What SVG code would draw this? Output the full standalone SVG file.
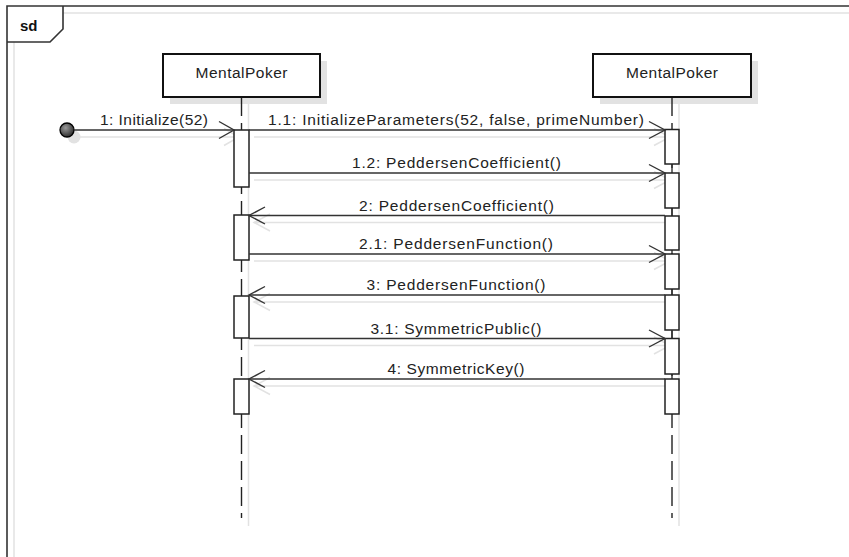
<svg xmlns="http://www.w3.org/2000/svg" width="849" height="557" viewBox="0 0 849 557">
  <style>
    .lbl { font-family: "Liberation Sans", Arial, sans-serif; font-size: 15.5px; fill: #222; text-anchor: middle; }
    .title { font-family: "Liberation Sans", Arial, sans-serif; font-size: 15px; font-weight: bold; fill: #111; }
    .frame { fill: none; stroke: #333; stroke-width: 1.6; }
    .shade { fill: none; stroke: #e2e2e2; stroke-width: 1.5; }
    .shadefill { fill: #e2e2e2; stroke: none; }
    .head { fill: #fff; stroke: #111; stroke-width: 2; }
    .life { stroke: #222; stroke-width: 1.4; stroke-dasharray: 19 7; fill: none; }
    .act { fill: #fff; stroke: #222; stroke-width: 1.5; }
    .msg { stroke: #333; stroke-width: 1.4; fill: none; }
    .arrow { stroke: #333; stroke-width: 1.4; fill: none; }
  </style>
  <defs>
    <radialGradient id="startFill" cx="0.4" cy="0.35" r="0.7">
      <stop offset="0" stop-color="#9a9a9a"/>
      <stop offset="1" stop-color="#262626"/>
    </radialGradient>
  </defs>

  <rect width="849" height="557" fill="#fff"/>

  <!-- frame -->
  <g id="frame">
    <path class="shade" d="M14 42 V557 M63 13 H849"/>
    <path class="frame" d="M7 557 V6 H849"/>
    <path class="frame" d="M7 42 H50 L63 29 V6"/>
    <text class="title" x="20" y="31">sd</text>
  </g>

  <!-- lifeline shadows -->
  <g id="shadows">
    <rect class="shadefill" x="170" y="61" width="157" height="43"/>
    <rect class="shadefill" x="600" y="61" width="158" height="43"/>
    <line class="shade" x1="248.5" y1="104" x2="248.5" y2="526"/>
    <line class="shade" x1="679" y1="104" x2="679" y2="526"/>
    <circle class="shadefill" cx="74" cy="137" r="6.5"/>
    <g transform="translate(5,7)" class="shade">
      <path d="M74 130 H234 M219 121.5 L234 130 L219 138.5"/>
      <path d="M249 130 H665 M649 121.5 L665 130 L649 138.5"/>
      <path d="M249 173 H665 M649 164.5 L665 173 L649 181.5"/>
      <path d="M665 215.5 H249 M265 207 L249 215.5 L265 224"/>
      <path d="M249 254 H665 M649 245.5 L665 254 L649 262.5"/>
      <path d="M665 295 H249 M265 286.5 L249 295 L265 303.5"/>
      <path d="M249 338.5 H665 M649 330 L665 338.5 L649 347"/>
      <path d="M665 379 H249 M265 370.5 L249 379 L265 387.5"/>
    </g>
  </g>

  <!-- lifeline: MentalPoker (left) -->
  <g id="lifeline-left">
    <line class="life" x1="241.5" y1="97" x2="241.5" y2="518"/>
    <rect class="head" x="163" y="54" width="157" height="43"/>
    <text class="lbl" x="241.5" y="78" textLength="92" lengthAdjust="spacing">MentalPoker</text>
    <rect class="act" x="234" y="130" width="15" height="57"/>
    <rect class="act" x="234" y="215" width="15" height="45"/>
    <rect class="act" x="234" y="296" width="15" height="42"/>
    <rect class="act" x="234" y="379" width="15" height="35"/>
  </g>

  <!-- lifeline: MentalPoker (right) -->
  <g id="lifeline-right">
    <line class="life" x1="672" y1="97" x2="672" y2="518"/>
    <line x1="672" y1="164" x2="672" y2="379" stroke="#333" stroke-width="1.4"/>
    <rect class="head" x="593" y="54" width="158" height="43"/>
    <text class="lbl" x="672" y="78" textLength="92" lengthAdjust="spacing">MentalPoker</text>
    <rect class="act" x="665" y="129.5" width="14" height="34.5"/>
    <rect class="act" x="665" y="173" width="14" height="35"/>
    <rect class="act" x="665" y="216" width="14" height="34"/>
    <rect class="act" x="665" y="254" width="14" height="35"/>
    <rect class="act" x="665" y="295" width="14" height="35"/>
    <rect class="act" x="665" y="338.5" width="14" height="35.5"/>
    <rect class="act" x="665" y="379" width="14" height="35"/>
  </g>

  <!-- start point -->
  <g id="start">
    <circle cx="67" cy="130" r="7" fill="url(#startFill)" stroke="#000" stroke-width="1.3"/>
  </g>

  <!-- messages -->
  <g id="connectors">
    <path class="msg" d="M74 130 H234"/>
    <path class="arrow" d="M219 121.5 L234 130 L219 138.5"/>
    <text class="lbl" x="154" y="125" textLength="108" lengthAdjust="spacing">1: Initialize(52)</text>

    <path class="msg" d="M249 130 H665"/>
    <path class="arrow" d="M649 121.5 L665 130 L649 138.5"/>
    <text class="lbl" x="456" y="125" textLength="376" lengthAdjust="spacing">1.1: InitializeParameters(52, false, primeNumber)</text>

    <path class="msg" d="M249 173 H665"/>
    <path class="arrow" d="M649 164.5 L665 173 L649 181.5"/>
    <text class="lbl" x="456.5" y="168" textLength="209" lengthAdjust="spacing">1.2: PeddersenCoefficient()</text>

    <path class="msg" d="M665 215.5 H249"/>
    <path class="arrow" d="M265 207 L249 215.5 L265 224"/>
    <text class="lbl" x="456.5" y="210.5" textLength="195" lengthAdjust="spacing">2: PeddersenCoefficient()</text>

    <path class="msg" d="M249 254 H665"/>
    <path class="arrow" d="M649 245.5 L665 254 L649 262.5"/>
    <text class="lbl" x="456" y="249" textLength="194" lengthAdjust="spacing">2.1: PeddersenFunction()</text>

    <path class="msg" d="M665 295 H249"/>
    <path class="arrow" d="M265 286.5 L249 295 L265 303.5"/>
    <text class="lbl" x="456" y="290" textLength="179" lengthAdjust="spacing">3: PeddersenFunction()</text>

    <path class="msg" d="M249 338.5 H665"/>
    <path class="arrow" d="M649 330 L665 338.5 L649 347"/>
    <text class="lbl" x="456" y="333.5" textLength="171" lengthAdjust="spacing">3.1: SymmetricPublic()</text>

    <path class="msg" d="M665 379 H249"/>
    <path class="arrow" d="M265 370.5 L249 379 L265 387.5"/>
    <text class="lbl" x="456" y="374" textLength="137" lengthAdjust="spacing">4: SymmetricKey()</text>
  </g>
</svg>
